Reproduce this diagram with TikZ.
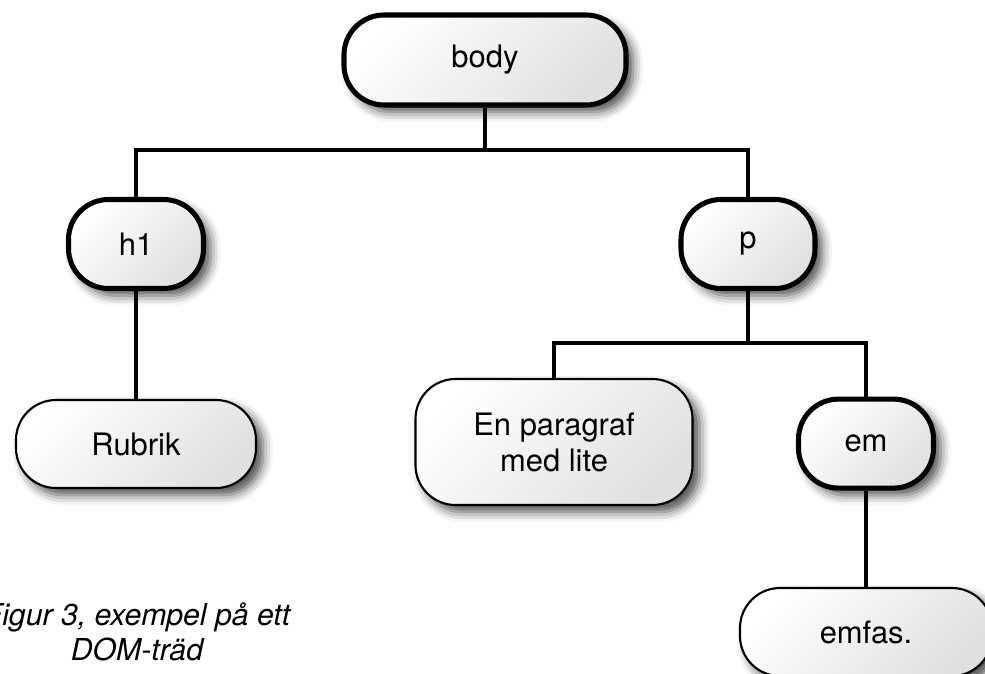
\documentclass[tikz,border=0pt]{standalone}
\usepackage{fontspec}
\setmainfont{TeX Gyre Heros}
\usepackage{tikz}
\usetikzlibrary{shadows.blur}
\tikzset{
    tagnode/.style={draw=black, line width=3.6pt, rounded corners=1cm,
        top color=white, bottom color=black!12, shading angle=45,
        blur shadow={shadow xshift=5pt, shadow yshift=-5pt, shadow blur radius=7pt, shadow opacity=70},
        minimum width=3.375cm, minimum height=2.225cm, inner sep=0pt,
        font=\fontsize{22}{25.6}\selectfont},
    textleaf/.style={tagnode, line width=1.5pt, minimum width=6cm, minimum height=2.2cm, align=center},
    branch/.style={draw=black, line width=3.2pt},
    caption/.style={font=\fontsize{21.5}{25}\selectfont\itshape, align=center, inner sep=0pt},
}

\begin{document}
\begin{tikzpicture}
	\useasboundingbox (0,0) rectangle (24.625,-16.825);
	% tree nodes
	\node[tagnode, minimum width=7.05cm, minimum height=2.25cm] (body) at (12.125,-1.5) {body};
	\node[tagnode] (h1) at (3.4,-6.1) {h1};
	\node[tagnode, minimum width=3.35cm] (p) at (18.7,-6.1) {p};
	\node[textleaf] (rubrik) at (3.4,-11.1) {Rubrik};
	\node[textleaf, minimum width=6.925cm, minimum height=3.15cm] (para) at (13.85,-11.05) {En paragraf\\med lite};
	\node[tagnode] (em) at (21.65,-11.09) {em};
	\node[textleaf, minimum width=6.3cm] (emfas) at (21.65,-15.8) {emfas.};
	\node[caption] (fig) at (3.425,-15.8) {Figur 3, exempel på ett\\DOM-träd};
	% connectors
	\coordinate (bodyjoin) at (12.125,-3.75);
	\coordinate (pjoin) at (18.7,-8.575);
	\draw[branch] (body) -- (bodyjoin);
	\draw[branch] (h1) |- (bodyjoin) -| (p);
	\draw[branch] (h1) -- (rubrik);
	\draw[branch] (p) -- (pjoin);
	\draw[branch] (para) |- (pjoin) -| (em);
	\draw[branch] (em) -- (emfas);
\end{tikzpicture}
\end{document}
